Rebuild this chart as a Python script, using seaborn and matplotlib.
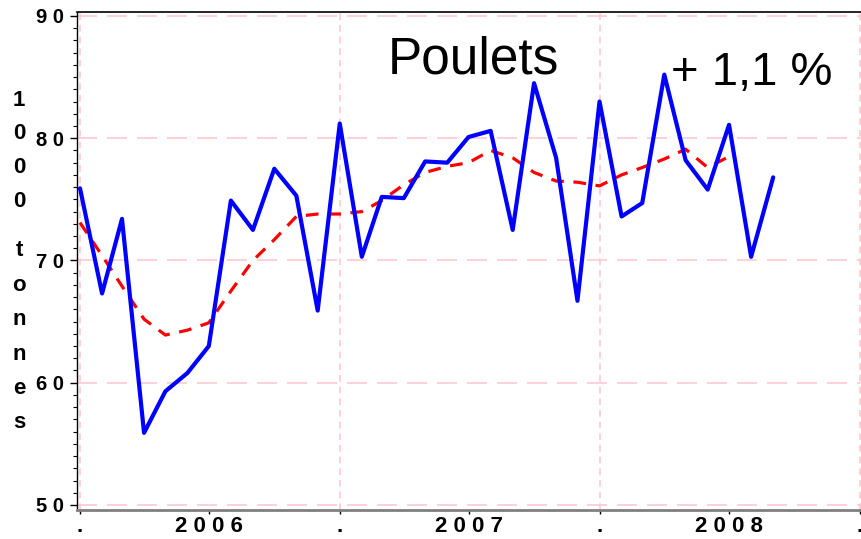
import pandas as pd
import numpy as np
import matplotlib
matplotlib.use("Agg")
import matplotlib.pyplot as plt
import seaborn as sns

# === Data ===
months = pd.date_range("2006-01-01", periods=33, freq="MS")
poulets = [75.9, 67.3, 73.4, 55.9, 59.3, 60.8, 63.0, 74.9, 72.5, 77.5, 75.3, 65.9,
           81.2, 70.3, 75.2, 75.1, 78.1, 78.0, 80.1, 80.6, 72.5, 84.5, 78.4, 66.7,
           83.0, 73.6, 74.7, 85.2, 78.2, 75.8, 81.1, 70.3, 76.8]
tendance = [73.1, 70.4, 67.9, 65.2, 63.9, 64.3, 64.9, 67.5, 70.0, 71.7, 73.6, 73.8,
            73.8, 74.0, 74.9, 76.2, 77.2, 77.7, 78.0, 79.0, 78.4, 77.2, 76.5, 76.4,
            76.1, 77.0, 77.6, 78.3, 79.1, 77.6, 78.5]
y_ticks = [50, 60, 70, 80, 90]
year_starts = pd.to_datetime(["2006-01-01", "2007-01-01", "2008-01-01", "2009-01-01"])
year_mids = pd.to_datetime(["2006-07-01", "2007-07-01", "2008-07-01"])
year_labels = ["2 0 0 6", "2 0 0 7", "2 0 0 8"]
title = "Poulets"
variation = "+ 1,1 %"

df = pd.DataFrame({"date": months, "poulets": poulets})
df_trend = pd.DataFrame({"date": months[:len(tendance)], "tendance": tendance})

# === Style ===
sns.set_style("white")
plt.rcParams["font.family"] = ["Liberation Sans", "DejaVu Sans"]
plt.rcParams["text.color"] = "black"
plt.rcParams["xtick.color"] = "black"
plt.rcParams["ytick.color"] = "black"

W, H = 862, 539
fig = plt.figure(figsize=(W / 100, H / 100), dpi=100)
ax = fig.add_axes([77 / W, 1 - 509.5 / H, (W - 77) / W, (509.5 - 12.3) / H])

grid_col = "#ffc8d2"
for v in y_ticks:
    ax.axhline(v, color=grid_col, lw=1.2, dashes=(12, 6), zorder=0)
for d in year_starts:
    ax.axvline(d, color=grid_col, lw=1.2, dashes=(4, 3), zorder=0)

sns.lineplot(data=df_trend, x="date", y="tendance", ax=ax, color="#ff0000",
             lw=2.3, zorder=2)
ax.lines[-1].set_dashes((4, 3))
sns.lineplot(data=df, x="date", y="poulets", ax=ax, color="#0000ff", lw=3.0, zorder=3)

px_day = 780 / 1096
ax.set_xlim(pd.Timestamp("2006-01-01") - pd.Timedelta(days=3 / px_day),
            pd.Timestamp("2009-01-01") + pd.Timedelta(days=2 / px_day))
ax.set_ylim(49.63, 90.3)

# y axis
ax.set_yticks(y_ticks, labels=[" ".join(str(v)) for v in y_ticks])
ax.set_yticks(np.arange(50, 91, 1), minor=True)
ax.tick_params(axis="y", which="major", length=5, width=1, pad=4,
               left=True, labelsize=14.5)
ax.tick_params(axis="y", which="minor", length=3, width=0.8, left=True)
for t in ax.get_yticklabels():
    t.set_fontweight("bold")

# x axis
ax.set_xticks(year_starts, labels=["."] * len(year_starts))
ax.set_xticks(year_mids, labels=year_labels, minor=True)
ax.tick_params(axis="x", which="both", length=3, width=1, pad=1.5,
               bottom=True, labelsize=16)
for t in ax.get_xticklabels() + ax.get_xticklabels(minor=True):
    t.set_fontweight("bold")

ax.set_xlabel("")
ax.set_ylabel("")

for s in ["left", "top"]:
    ax.spines[s].set_color("black")
ax.spines["left"].set_linewidth(1.0)
ax.spines["top"].set_linewidth(1.2)
ax.spines["bottom"].set_color("#808080")
ax.spines["bottom"].set_linewidth(2.0)
ax.spines["right"].set_visible(False)

# titles
fig.text(388 / W, 1 - 74 / H, title, fontsize=37, va="baseline", ha="left")
fig.text(671 / W, 1 - 85 / H, variation, fontsize=34, va="baseline", ha="left")

# stacked y label
ylab_top = "1000"
ylab_bottom = "tonnes"
for i, ch in enumerate(ylab_top):
    fig.text(19 / W, 1 - (100 + i * 33.7) / H, ch, fontsize=16, fontweight="bold",
             ha="center", va="center")
for i, ch in enumerate(ylab_bottom):
    fig.text(19 / W, 1 - (251 + i * 34.4) / H, ch, fontsize=16, fontweight="bold",
             ha="center", va="center")

plt.savefig("out.png", dpi=100)
plt.close()
